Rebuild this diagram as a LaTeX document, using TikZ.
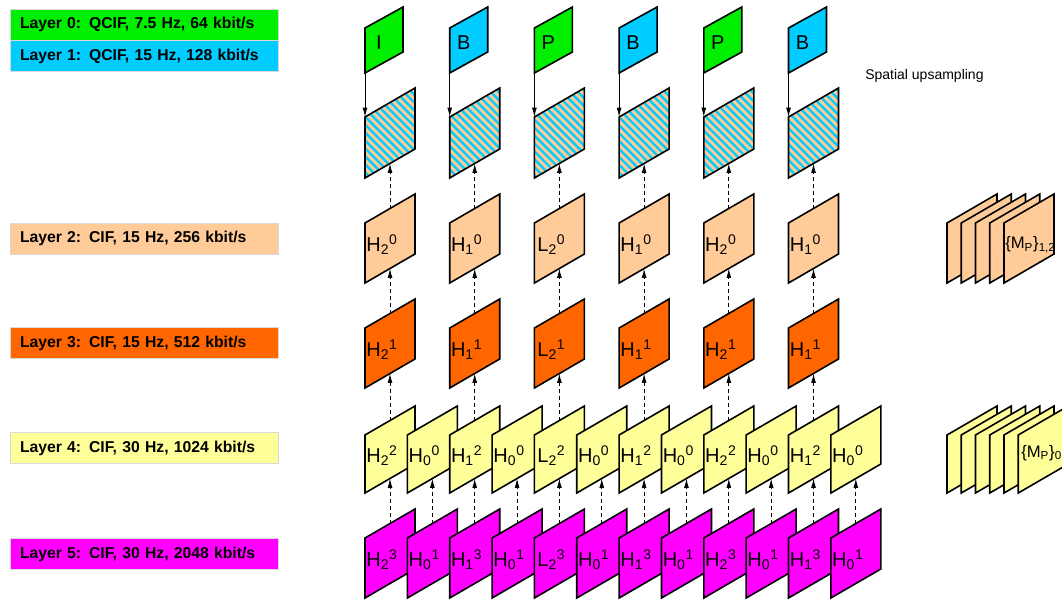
\documentclass[tikz,border=0pt]{standalone}
\usepackage{fontspec}
\setmainfont{Liberation Sans}
\usetikzlibrary{arrows.meta,positioning,patterns.meta}
\definecolor{qcifgreen}{RGB}{0,238,0}
\definecolor{qcifcyan}{RGB}{0,204,255}
\definecolor{cifpeach}{RGB}{255,204,153}
\definecolor{ciforange}{RGB}{255,102,0}
\definecolor{cifyellow}{RGB}{255,255,153}
\definecolor{cifmagenta}{RGB}{255,0,255}

\newcommand{\frlabel}[3]{#1\textsubscript{#2}\textsuperscript{#3}}
% name, left x, top-left y, height, fill options, text
\newcommand{\vidframe}[6]{%
  \draw[frameline,#5] (#2,#3) -- ++(50,-29) -- ++(0,#4) -- ++(-50,29) -- cycle;
  \coordinate (#1-tl) at (#2,#3);
  \coordinate (#1-t) at (#2+25,#3-14.5);
  \coordinate (#1-b) at (#2+25,#3+#4-14.5);
  \node[frametext] (#1) at (#2+17,#3+#4/2-8) {#6};}

\begin{document}
\begin{tikzpicture}[x=0.75pt,y=-0.75pt,>={Latex[length=7pt,width=3.6pt]},
  frameline/.style={draw=black,line width=1.2pt},
  frametext/.style={font=\fontsize{15}{18}\selectfont,inner sep=0pt},
  stacktext/.style={font=\fontsize{12.5}{14}\selectfont,inner sep=0pt},
  hatch/.style={preaction={fill=cifpeach},pattern={Lines[angle=-45,distance=4.2pt,line width=1.8pt]},pattern color=qcifcyan},
  layerbox/.style={font=\fontsize{11.8}{14}\selectfont\bfseries,text width=186pt,inner xsep=7.5pt,minimum height=23.25pt,align=left,draw=black!15,line width=0.6pt},
  uparrow/.style={->,line width=0.6pt,dash pattern=on 3pt off 2.2pt},
  downarrow/.style={->,line width=0.6pt}]

\useasboundingbox (0,0) rectangle (1062,599);

% layer legend
\node[layerbox,fill=qcifgreen] (lay0) at (144,24.5) {Layer 0: QCIF, 7.5 Hz, 64 kbit/s};
\node[layerbox,fill=qcifcyan,below=0pt of lay0] (lay1) {Layer 1: QCIF, 15 Hz, 128 kbit/s};
\node[layerbox,fill=cifpeach] (lay2) at (144,238.5) {Layer 2: CIF, 15 Hz, 256 kbit/s};
\node[layerbox,fill=ciforange] (lay3) at (144,343) {Layer 3: CIF, 15 Hz, 512 kbit/s};
\node[layerbox,fill=cifyellow] (lay4) at (144,448) {Layer 4: CIF, 30 Hz, 1024 kbit/s};
\node[layerbox,fill=cifmagenta] (lay5) at (144,554) {Layer 5: CIF, 30 Hz, 2048 kbit/s};

\node[font=\fontsize{10.5}{12}\selectfont,anchor=west,inner sep=0pt] (spatial) at (865,76) {Spatial upsampling};

% frame columns
\foreach \ltr/\col/\fletter/\flevel [count=\i from 0] in {I/qcifgreen/H/2,B/qcifcyan/H/1,P/qcifgreen/L/2,B/qcifcyan/H/1,P/qcifgreen/H/2,B/qcifcyan/H/1} {
  \draw[frameline,fill=\col] (365+84.7*\i,28) -- ++(38,-21) -- ++(0,45) -- ++(-38,21) -- cycle;
  \node[frametext] (top\i) at (379+84.7*\i,43) {\ltr};
  \coordinate (top\i-bl) at (365+84.7*\i,73);
  \vidframe{up\i}{365+84.7*\i}{117}{61}{hatch}{}
  \vidframe{l2f\i}{365+84.7*\i}{223}{60}{fill=cifpeach}{\frlabel{\fletter}{\flevel}{0}}
  \vidframe{l3f\i}{365+84.7*\i}{328}{60}{fill=ciforange}{\frlabel{\fletter}{\flevel}{1}}
  \vidframe{l4a\i}{365+84.7*\i}{435}{58}{fill=cifyellow}{\frlabel{\fletter}{\flevel}{2}}
  \vidframe{l4b\i}{407.35+84.7*\i}{435}{58}{fill=cifyellow}{\frlabel{H}{0}{0}}
  \vidframe{l5a\i}{365+84.7*\i}{538}{60}{fill=cifmagenta}{\frlabel{\fletter}{\flevel}{3}}
  \vidframe{l5b\i}{407.35+84.7*\i}{538}{60}{fill=cifmagenta}{\frlabel{H}{0}{1}}
  \draw[downarrow] (top\i-bl) -- (up\i-tl);
  \draw[uparrow] (l2f\i-t) -- (up\i-b);
  \draw[uparrow] (l3f\i-t) -- (l2f\i-b);
  \draw[uparrow] (l4a\i-t) -- (l3f\i-b);
  \draw[uparrow] (l5a\i-t) -- (l4a\i-b);
  \draw[uparrow] (l5b\i-t) -- (l4b\i-b);
}

% motion field stacks
\foreach \k in {0,...,4} {\vidframe{mpa\k}{947+14.25*\k}{223}{60}{fill=cifpeach}{}}
\node[stacktext,anchor=west] (mpa) at (1005,245) {\{M\textsubscript{P}\}\textsubscript{1,2}};
\foreach \k in {0,...,5} {\vidframe{mpb\k}{947+14.25*\k}{435}{58}{fill=cifyellow}{}}
\node[stacktext,anchor=west] (mpb) at (1021,453) {\{M\textsubscript{P}\}\textsubscript{0}};
\end{tikzpicture}
\end{document}
